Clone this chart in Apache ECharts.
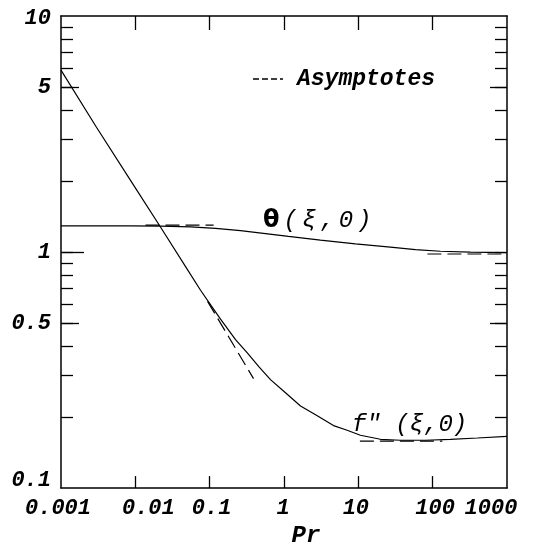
<!DOCTYPE html>
<html><head><meta charset="utf-8">
<script src="https://cdn.jsdelivr.net/npm/echarts@6/dist/echarts.min.js"></script>
<style>html,body{margin:0;padding:0;background:#fff}#c{width:541px;height:553px}</style>
</head><body><div id="c"></div>
<script>
// ---- data ----
const thetaPr  = [0.001, 0.00865, 0.0219, 0.0554, 0.12, 0.26, 0.564, 1.15, 3.09, 9.14, 27.0, 58.6, 126.9, 321, 1000];
const thetaVal = [1.291, 1.290, 1.288, 1.278, 1.259, 1.232, 1.198, 1.165, 1.124, 1.084, 1.049, 1.024, 1.008, 0.999, 0.995];

const fppPr  = [0.001, 0.003, 0.01, 0.022, 0.0474, 0.0754, 0.14, 0.2228, 0.323, 0.461, 0.658, 1.047, 1.667, 2.73, 4.63, 6.92, 10.67, 19.8, 36.8, 80, 173, 400, 1000];
const fppVal = [5.9, 3.38, 1.87, 1.27, 0.867, 0.689, 0.520, 0.426, 0.373, 0.326, 0.288, 0.2533, 0.2228, 0.2035, 0.184, 0.1763, 0.1674, 0.161, 0.1595, 0.1595, 0.161, 0.163, 0.1657];

const thetaLowAsymPr = [0.0137, 0.113];
const thetaLowAsymVal = [1.30, 1.30];
const thetaHighAsymPr = [85, 1000];
const thetaHighAsymVal = [0.981, 0.981];
const fppLowAsymPr = [0.0937, 0.389];
const fppLowAsymVal = [0.618, 0.291];
const fppHighAsymPr = [10.5, 135];
const fppHighAsymVal = [0.158, 0.158];

const xTickValues = [0.001, 0.01, 0.1, 1, 10, 100, 1000];
const xTickLabels = ['0.001', '0.01', '0.1', '1', '10', '100', '1000'];
const yTickValues = [0.1, 0.5, 1, 5, 10];
const yTickLabels = ['0.1', '0.5', '1', '5', '10'];
const yMinorTicks = [0.2, 0.3, 0.4, 0.5, 0.6, 0.7, 0.8, 0.9, 1, 2, 3, 4, 5, 6, 7, 8, 9];
const yMidTicks = [0.5, 5];
const yMajorTicks = [1];

// ---- chart ----
const pairs = (xs, ys) => xs.map((x, i) => [x, ys[i]]);
const FONT = '"Liberation Mono", "DejaVu Sans Mono", monospace';
const lblBase = { fontFamily: FONT, fontSize: 22, fontStyle: 'italic', fontWeight: 'bold', color: '#000' };
const idxOf = (arr, v) => {
  let best = 0, bd = Infinity;
  arr.forEach((t, i) => { const d = Math.abs(Math.log10(t) - Math.log10(v)); if (d < bd) { bd = d; best = i; } });
  return best;
};
const xPads = [[0,6,0,0],[0,0,0,26],[0,0,0,4],[0,2,0,0],[0,5,0,0],[0,0,0,5],[0,32,0,0]];
const xRich = {}; xPads.forEach((p, i) => { xRich['x' + i] = Object.assign({}, lblBase, { padding: p }); });
const yPads = [[0,0,16,0],[0,0,0,0],[0,0,0,0],[0,0,0,0],[5,0,0,0]];
const yRich = {}; yPads.forEach((p, i) => { yRich['y' + i] = Object.assign({}, lblBase, { padding: p }); });

const axisLine = { show: true, onZero: false, lineStyle: { color: '#000', width: 1.5 } };
const tickStyle = { color: '#000', width: 1.3 };

const solid = { color: '#000', width: 1.2 };
const dashed = { color: '#000', width: 1.2, type: [14, 6] };

function lineSeries(name, xs, ys, style) {
  return {
    type: 'line', name, data: pairs(xs, ys), xAxisIndex: 0, yAxisIndex: 0,
    symbol: 'none', showSymbol: false, smooth: false,
    lineStyle: style, silent: true, animation: false, z: 3
  };
}

const option = {
  backgroundColor: '#fff',
  animation: false,
  grid: { left: 61, right: 34, top: 16, bottom: 54, containLabel: false },
  xAxis: [
    {
      type: 'log', logBase: 10, min: 0.001, max: 1000, position: 'bottom',
      axisLine,
      axisTick: { show: true, inside: true, length: 12, lineStyle: tickStyle, customValues: xTickValues.slice(1, -1) },
      axisLabel: {
        show: true, margin: 9, customValues: xTickValues,
        formatter: v => { const i = idxOf(xTickValues, v); return '{x' + i + '|' + xTickLabels[i] + '}'; },
        rich: xRich
      },
      minorTick: { show: false }, splitLine: { show: false },
      name: 'Pr', nameLocation: 'middle', nameGap: 33,
      nameTextStyle: Object.assign({}, lblBase, { fontSize: 24, padding: [0, 0, 0, 44] })
    },
    {
      type: 'log', logBase: 10, min: 0.001, max: 1000, position: 'top',
      axisLine,
      axisTick: { show: true, inside: true, length: 14, lineStyle: tickStyle, customValues: xTickValues.slice(1, -1) },
      axisLabel: { show: false }, splitLine: { show: false }
    }
  ],
  yAxis: [
    {
      type: 'log', logBase: 10, min: 0.1, max: 10, position: 'left',
      axisLine,
      axisTick: { show: true, inside: true, length: 12, lineStyle: tickStyle, customValues: yMinorTicks },
      axisLabel: {
        show: true, margin: 10, customValues: yTickValues,
        formatter: v => { const i = idxOf(yTickValues, v); return '{y' + i + '|' + yTickLabels[i] + '}'; },
        rich: yRich
      },
      splitLine: { show: false }
    },
    {
      type: 'log', logBase: 10, min: 0.1, max: 10, position: 'right',
      axisLine,
      axisTick: { show: true, inside: true, length: 12, lineStyle: tickStyle, customValues: yMinorTicks },
      axisLabel: { show: false }, splitLine: { show: false }
    },
    {
      type: 'log', logBase: 10, min: 0.1, max: 10, position: 'left', offset: 0,
      axisLine: { show: false },
      axisTick: { show: true, inside: true, length: 18, lineStyle: tickStyle, customValues: yMidTicks },
      axisLabel: { show: false }, splitLine: { show: false }
    },
    {
      type: 'log', logBase: 10, min: 0.1, max: 10, position: 'left', offset: 0,
      axisLine: { show: false },
      axisTick: { show: true, inside: true, length: 23, lineStyle: tickStyle, customValues: yMajorTicks },
      axisLabel: { show: false }, splitLine: { show: false }
    },
    {
      type: 'log', logBase: 10, min: 0.1, max: 10, position: 'right', offset: 0,
      axisLine: { show: false },
      axisTick: { show: true, inside: true, length: 17, lineStyle: tickStyle, customValues: yMidTicks },
      axisLabel: { show: false }, splitLine: { show: false }
    }
  ],
  series: [
    lineSeries('θ(ξ,0)', thetaPr, thetaVal, solid),
    lineSeries('f"(ξ,0)', fppPr, fppVal, solid),
    lineSeries('Asymptotes', thetaLowAsymPr, thetaLowAsymVal, dashed),
    lineSeries('Asymptotes', thetaHighAsymPr, thetaHighAsymVal, dashed),
    lineSeries('Asymptotes', fppLowAsymPr, fppLowAsymVal, dashed),
    lineSeries('Asymptotes', fppHighAsymPr, fppHighAsymVal, dashed)
  ],
  graphic: [
    { type: 'line', shape: { x1: 253, y1: 79, x2: 283, y2: 79 },
      style: { stroke: '#000', lineWidth: 1.3, lineDash: [6, 3] }, silent: true },
    { type: 'text', x: 297, y: 79, silent: true,
      style: { text: 'Asymptotes', fill: '#000', verticalAlign: 'middle', align: 'left',
        font: 'italic bold 23px ' + FONT } },
    { type: 'text', x: 263, y: 221, silent: true,
      style: {
        text: '{t|θ}{c|(}{c|ξ}{c|,}{c|0}{c|)}', verticalAlign: 'middle', align: 'left',
        rich: {
          t: { fontFamily: '"DejaVu Sans", sans-serif', fontWeight: 'bold', fontSize: 24, fill: '#000', color: '#000', padding: [0, 2, 0, 0] },
          c: { fontFamily: FONT, fontStyle: 'italic', fontSize: 24, fill: '#000', color: '#000', padding: [0, 2, 0, 2] }
        }
      } },
    { type: 'text', x: 352, y: 425, silent: true,
      style: { text: 'f" (ξ,0)', fill: '#000', verticalAlign: 'middle', align: 'left',
        font: 'italic 24px ' + FONT } }
  ]
};

const chart = echarts.init(document.getElementById('c'), null, { renderer: 'canvas' });
chart.setOption(option);
</script>
</body></html>
